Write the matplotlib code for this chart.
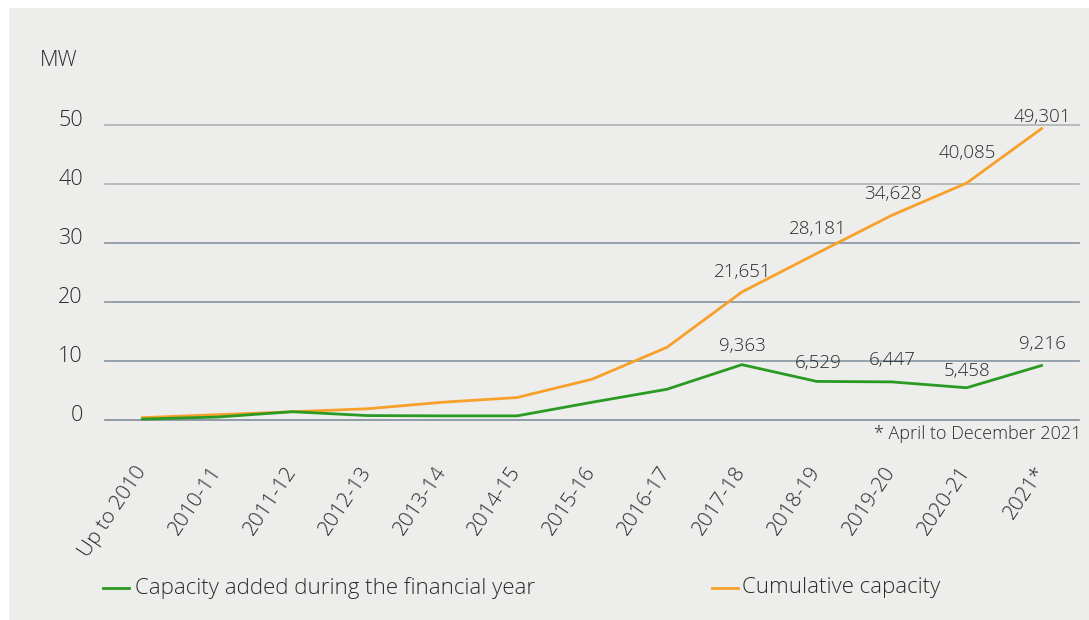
import matplotlib
matplotlib.use("Agg")
import matplotlib.pyplot as plt
from matplotlib.patches import Rectangle
from matplotlib.lines import Line2D
from matplotlib.transforms import ScaledTranslation

plt.rcParams['font.family'] = ['Open Sans', 'DejaVu Sans']
plt.rcParams['font.weight'] = 'light'

categories = ["Up to 2010", "2010-11", "2011-12", "2012-13", "2013-14", "2014-15",
              "2015-16", "2016-17", "2017-18", "2018-19", "2019-20", "2020-21", "2021*"]
added = [0.16, 0.5, 1.4, 0.75, 0.7, 0.7, 3.0, 5.2, 9.363, 6.529, 6.447, 5.458, 9.216]
cumulative = [0.4, 0.9, 1.4, 1.9, 3.0, 3.8, 6.9, 12.3, 21.651, 28.181, 34.628, 40.085, 49.301]
added_labels = {8: "9,363", 9: "6,529", 10: "6,447", 11: "5,458", 12: "9,216"}
cum_labels = {8: "21,651", 9: "28,181", 10: "34,628", 11: "40,085", 12: "49,301"}
yticks = [0, 10, 20, 30, 40, 50]

# label offsets in pixels (style, not data)
added_off = {8: 19, 9: 18, 10: 22, 11: 17, 12: 22}
cum_off = {8: 20, 9: 24, 10: 21, 11: 30, 12: 12}

W, H = 1089, 620
fig = plt.figure(figsize=(W / 100, H / 100), dpi=100)
fig.patch.set_facecolor("white")
fig.add_artist(Rectangle((9 / W, 0), 1 - 9 / W, 1 - 8 / H, transform=fig.transFigure,
                         facecolor="#ededec", edgecolor="none", zorder=-10))

TXT = "#2b2b2b"
GREEN = "#2a9a22"
ORANGE = "#f7a02a"

left, right = 105 / W, 1079 / W
bottom, top = (H - 420) / H, (H - 124.5) / H
ax = fig.add_axes([left, bottom, right - left, top - bottom])
ax.set_facecolor("none")
for s in ax.spines.values():
    s.set_visible(False)

x = list(range(len(categories)))
ax.set_xlim(-0.5, len(categories) - 0.5)
ax.set_ylim(0, 50)

grid_colors = ["#7f8d98", "#8593a0", "#8593a0", "#8593a0", "#aeb2b5", "#aeb2b5"]
for yv, c in zip(yticks, grid_colors):
    ax.axhline(yv, color=c, lw=1.2, zorder=1, clip_on=False)

ax.plot(x, cumulative, color=ORANGE, lw=2, zorder=3, clip_on=False)
ax.plot(x, added, color=GREEN, lw=2, zorder=4, clip_on=False)

for i, lab in cum_labels.items():
    ax.annotate(lab, (x[i], cumulative[i]), xytext=(1, cum_off[i]), textcoords="offset pixels",
                ha="center", va="center", fontsize=13.5, color=TXT, zorder=5)
for i, lab in added_labels.items():
    ax.annotate(lab, (x[i], added[i]), xytext=(1, added_off[i]), textcoords="offset pixels",
                ha="center", va="center", fontsize=13.5, color=TXT, zorder=5)

ax.set_yticks(yticks)
ax.set_yticklabels([str(v) for v in yticks], fontsize=15.5, color=TXT)
ax.tick_params(axis="y", length=0, pad=16)
for lbl in ax.get_yticklabels():
    lbl.set_transform(lbl.get_transform() + ScaledTranslation(0, 7 / 100, fig.dpi_scale_trans))

ax.set_xticks(x)
ax.set_xticklabels(categories, rotation=56, ha="right", va="center",
                   rotation_mode="anchor", fontsize=15, color=TXT)
ax.tick_params(axis="x", length=0, pad=35)

fig.text(40 / W, 1 - 60 / H, "MW", ha="left", va="center", fontsize=15.5, color=TXT)
fig.text(1081 / W, 1 - 434 / H, "* April to December 2021", ha="right", va="center",
         fontsize=13, color=TXT)

ly = 1 - 588 / H
fig.add_artist(Line2D([103 / W, 129 / W], [ly, ly], color=GREEN, lw=2, transform=fig.transFigure))
fig.text(135 / W, ly, "Capacity added during the financial year", ha="left", va="center",
         fontsize=16, color=TXT)
fig.add_artist(Line2D([712 / W, 738 / W], [ly, ly], color=ORANGE, lw=2, transform=fig.transFigure))
fig.text(742 / W, ly, "Cumulative capacity", ha="left", va="center", fontsize=16, color=TXT)

fig.savefig("out.png", dpi=100, facecolor=fig.get_facecolor())
